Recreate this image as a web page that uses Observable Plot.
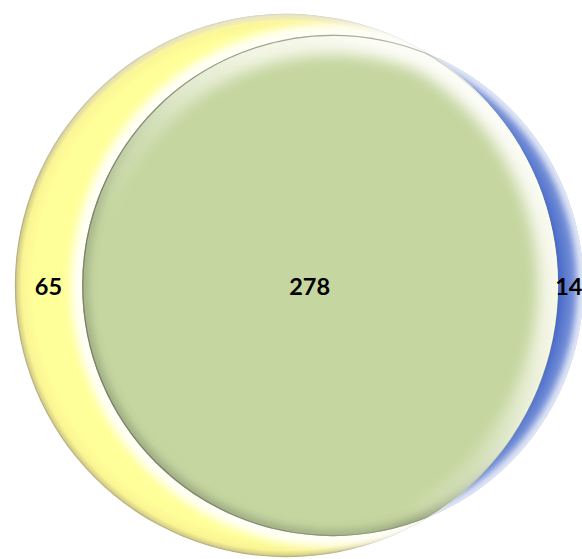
<!DOCTYPE html>
<html>
<head>
<meta charset="utf-8">
<script src="https://cdn.jsdelivr.net/npm/d3@7"></script>
<script src="https://cdn.jsdelivr.net/npm/@observablehq/plot@0.6"></script>
<style>
  html, body { margin: 0; padding: 0; background: #ffffff; }
  #chart svg { display: block; }
</style>
</head>
<body>
<div id="chart"></div>
<script>
// Region counts of a two-set Venn diagram: left only, shared, right only
const regionNames = ["left only", "both", "right only"];
const regionCounts = [65, 278, 14];
const regionLabels = ["65", "278", "14"];

// ---- area-proportional layout (in abstract units) ----
const leftTotal = regionCounts[0] + regionCounts[1];
const rightTotal = regionCounts[1] + regionCounts[2];
const rA = Math.sqrt(leftTotal / Math.PI);
const rB = Math.sqrt(rightTotal / Math.PI);

function lensArea(r1, r2, d) {
  if (d >= r1 + r2) return 0;
  if (d <= Math.abs(r1 - r2)) return Math.PI * Math.min(r1, r2) ** 2;
  const a1 = Math.acos((d * d + r1 * r1 - r2 * r2) / (2 * d * r1));
  const a2 = Math.acos((d * d + r2 * r2 - r1 * r1) / (2 * d * r2));
  return r1 * r1 * a1 + r2 * r2 * a2 -
    0.5 * Math.sqrt((-d + r1 + r2) * (d + r1 - r2) * (d - r1 + r2) * (d + r1 + r2));
}
// distance between centres that gives the shared area
let lo = Math.abs(rA - rB), hi = rA + rB;
for (let i = 0; i < 80; i++) {
  const mid = (lo + hi) / 2;
  if (lensArea(rA, rB, mid) > regionCounts[1]) lo = mid; else hi = mid;
}
const dist = (lo + hi) / 2;

const setA = [{x: 0, y: 0, r: rA}];
const setB = [{x: dist, y: 0, r: rB}];
const both = [setA[0], setB[0]];

const labels = [
  {x: (-rA + dist - rB) / 2, y: 0, text: regionLabels[0]},
  {x: dist / 2, y: 0, text: regionLabels[1]},
  {x: (rA + dist + rB) / 2, y: 0, text: regionLabels[2]}
];

// ---- page geometry ----
const W = 582, H = 559, unit = 26, cx0 = 286, cy0 = 285;
const xDomain = [-cx0 / unit, (W - cx0) / unit];
const yDomain = [-cy0 / unit, (H - cy0) / unit];
const px = d3.scaleLinear(xDomain, [0, W]);
const py = d3.scaleLinear(yDomain, [0, H]);

const circ = (data, opts) => Plot.dot(data, {x: "x", y: "y", r: "r", ...opts});
const labelStyle = {
  x: "x", y: "y", text: "text", dy: 2,
  fontSize: 23.5, fontWeight: "bold", fontFamily: "Lato, 'Open Sans', sans-serif",
  fill: "#000000"
};

const chart = Plot.plot({
  width: W,
  height: H,
  margin: 0,
  style: {background: "white", overflow: "visible"},
  x: {domain: xDomain, range: [0, W], axis: null},
  y: {domain: yDomain, range: [0, H], axis: null},
  r: {type: "linear", domain: [0, 1], range: [0, unit]},
  marks: [
    circ(setB, {fill: "url(#blueFill)", ariaDescription: "set-b"}),
    circ(setB, {fill: "none", stroke: "white", strokeWidth: 12, strokeOpacity: 0.75, ariaDescription: "b-soft"}),
    circ(setA, {fill: "url(#yellowFill)", ariaDescription: "set-a"}),
    circ(setA, {fill: "none", stroke: "url(#yellowHi)", strokeWidth: 8, ariaDescription: "a-hi"}),
    circ(setB, {fill: "none", stroke: "white", strokeWidth: 22, strokeOpacity: 0.92, ariaDescription: "glow"}),
    circ(setB, {fill: "#c5d6a0", ariaDescription: "lens"}),
    circ(both, {fill: "none", stroke: "url(#shadeGrad)", strokeWidth: 12, ariaDescription: "lens-shade"}),
    circ(both, {fill: "none", stroke: "url(#hiGrad)", strokeWidth: 40, ariaDescription: "lens-hi"}),
    circ(both, {fill: "none", stroke: "url(#edgeGrad)", strokeWidth: 2.5, ariaDescription: "lens-edge"}),
    Plot.text(labels.slice(0, 2), labelStyle),
    // the right-only count sits against the right edge
    Plot.text(labels.slice(2), {...labelStyle, dx: -2})
  ]
});
document.getElementById("chart").appendChild(chart);

// ---- shading definitions ----
const svg = d3.select(chart);
const defs = svg.insert("defs", ":first-child");
const A = {x: px(0), y: py(0), r: rA * unit};
const B = {x: px(dist), y: py(0), r: rB * unit};

function radial(id, c, stops) {
  const g = defs.append("radialGradient").attr("id", id)
    .attr("gradientUnits", "userSpaceOnUse")
    .attr("cx", c.x).attr("cy", c.y).attr("r", c.r);
  stops.forEach(([o, col, op = 1]) => g.append("stop").attr("offset", o).attr("stop-color", col).attr("stop-opacity", op));
}
function linear(id, p1, p2, stops) {
  const g = defs.append("linearGradient").attr("id", id)
    .attr("gradientUnits", "userSpaceOnUse")
    .attr("x1", p1[0]).attr("y1", p1[1]).attr("x2", p2[0]).attr("y2", p2[1]);
  stops.forEach(([o, col, op = 1]) => g.append("stop").attr("offset", o).attr("stop-color", col).attr("stop-opacity", op));
}
function blur(id, s) {
  defs.append("filter").attr("id", id)
    .attr("x", "-20%").attr("y", "-20%").attr("width", "140%").attr("height", "140%")
    .append("feGaussianBlur").attr("stdDeviation", s);
}
function clip(id, c) {
  defs.append("clipPath").attr("id", id)
    .append("circle").attr("cx", c.x).attr("cy", c.y).attr("r", c.r);
}

radial("yellowFill", A, [
  [0, "#ffff9c"], [0.93, "#ffff99"], [0.975, "#faf594"], [0.993, "#d8d188"], [1, "#a9a37c"]
]);
radial("blueFill", B, [
  [0, "#4565c6"], [0.9, "#4868c8"], [0.94, "#6482d2"], [1, "#8ea4de"]
]);
linear("yellowHi", [0, A.y - A.r], [0, A.y + 60], [
  [0, "#ffffff", 0.7], [0.3, "#ffffff", 0.3], [0.6, "#ffffff", 0]
]);
const lightFrom = [560, 60], lightTo = [150, 480];
linear("hiGrad", lightFrom, lightTo, [
  [0, "#ffffff", 1], [0.35, "#fbfbf0", 0.85], [0.6, "#ffffff", 0.2], [0.75, "#ffffff", 0]
]);
linear("shadeGrad", lightFrom, lightTo, [
  [0, "#5c6650", 0], [0.45, "#5c6650", 0], [0.75, "#5c6650", 0.3], [1, "#5c6650", 0.4]
]);
linear("edgeGrad", [560, 250], [80, 300], [
  [0, "#ffffff", 0.95], [0.12, "#f4f5ec", 0.85], [0.3, "#8d927f", 0.7], [1, "#6f7663", 0.85]
]);
blur("blur3", 3);
blur("blur4", 4);
blur("blur7", 7);
clip("clipA", A);
clip("clipB", B);

function layer(name) {
  return svg.select(`g[aria-description="${name}"]`);
}
function wrapClip(sel, id) {
  const node = sel.node();
  const w = document.createElementNS("http://www.w3.org/2000/svg", "g");
  node.parentNode.insertBefore(w, node);
  w.appendChild(node);
  w.setAttribute("clip-path", `url(#${id})`);
}

layer("b-soft").attr("filter", "url(#blur3)").attr("clip-path", "url(#clipB)");
layer("a-hi").attr("filter", "url(#blur3)").attr("clip-path", "url(#clipA)");
layer("glow").attr("filter", "url(#blur4)").attr("clip-path", "url(#clipA)");
layer("lens").attr("clip-path", "url(#clipA)");
for (const [name, f] of [["lens-shade", "blur4"], ["lens-hi", "blur7"], ["lens-edge", null]]) {
  const s = layer(name);
  if (f) s.attr("filter", `url(#${f})`);
  s.attr("clip-path", "url(#clipB)");
  wrapClip(s, "clipA");
}
</script>
</body>
</html>
